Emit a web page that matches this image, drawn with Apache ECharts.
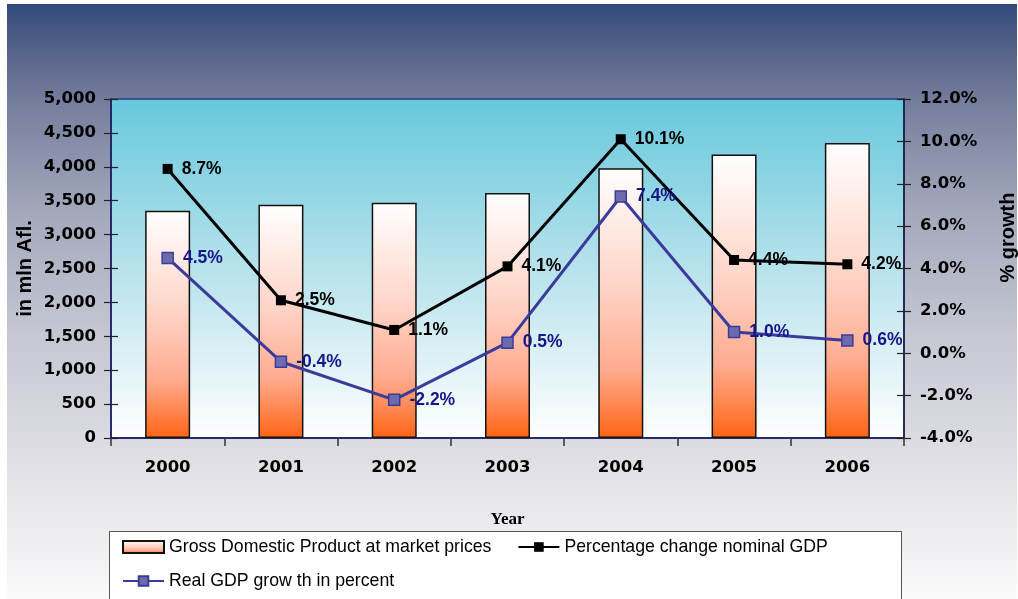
<!DOCTYPE html>
<html>
<head>
<meta charset="utf-8">
<script src="https://cdn.jsdelivr.net/npm/echarts@6/dist/echarts.min.js"></script>
<style>
  html, body { margin: 0; padding: 0; background: #ffffff; }
  #bg { position: absolute; left: 7px; top: 4px; width: 1010px; height: 595px;
        background: linear-gradient(to bottom, #334a7a 0%, #5f6a8e 10%, #777f9e 17%, #a3a8bb 35%, #c4c6d2 55%, #dddde3 75%, #f4f4f6 95%, #fafafb 100%); }
  #lgbox { position: absolute; left: 109px; top: 531px; width: 791px; height: 80px;
        background: #ffffff; border: 1.5px solid #555555; }
  #chart { position: absolute; left: 0; top: 0; width: 1018px; height: 599px; }
</style>
</head>
<body>
<div id="bg"></div>
<div id="lgbox"></div>
<div id="chart"></div>
<script>
const years = ['2000', '2001', '2002', '2003', '2004', '2005', '2006'];
const gdp = [3350, 3440, 3470, 3615, 3980, 4180, 4350];
const nominalChange = [8.7, 2.5, 1.1, 4.1, 10.1, 4.4, 4.2];
const realGrowth = [4.5, -0.4, -2.2, 0.5, 7.4, 1.0, 0.6];
const seriesNames = ['Gross Domestic Product at market prices', 'Percentage change nominal GDP', 'Real GDP grow th in percent'];

const chart = echarts.init(document.getElementById('chart'), null, { renderer: 'canvas' });
const tickFont = { fontFamily: 'DejaVu Sans', fontWeight: 'bold', fontSize: 16.5, color: '#000' };
const axisLineStyle = { color: '#1a1a5a', width: 1.5 };

const leftBase = { type: 'value', min: 0, max: 5000, interval: 500, splitLine: { show: false } };
const rightBase = { type: 'value', min: -4, max: 12, interval: 2, splitLine: { show: false } };
const legendText = { fontFamily: 'Liberation Sans', fontSize: 17.7, color: '#000' };

chart.setOption({
  animation: false,
  grid: {
    left: 111, right: 114, top: 99, bottom: 161, show: true,
    containLabel: false, outerBoundsMode: 'none',
    backgroundColor: { type: 'linear', x: 0, y: 0, x2: 0, y2: 1,
      colorStops: [{ offset: 0, color: '#66c8dc' }, { offset: 0.5, color: '#b7e2ec' }, { offset: 1, color: '#ffffff' }] },
    borderColor: '#2a3a8a', borderWidth: 1.5
  },
  legend: [
    { data: [{ name: seriesNames[0], icon: 'rect' }, { name: seriesNames[1] }], left: 122, top: 538, padding: 0,
      itemWidth: 41, itemHeight: 12, itemGap: 26, textStyle: legendText },
    { data: [seriesNames[2]], left: 122, top: 572, padding: 0, itemWidth: 41, itemHeight: 12, textStyle: legendText }
  ],
  xAxis: [{
    type: 'category', data: years, boundaryGap: true,
    name: 'Year', nameLocation: 'middle', nameGap: 73,
    nameTextStyle: { fontFamily: 'Liberation Serif', fontWeight: 'bold', fontSize: 17, color: '#000' },
    axisLine: { lineStyle: axisLineStyle },
    axisTick: { show: true, alignWithLabel: false, length: 8, lineStyle: { color: '#333', width: 1.5 } },
    axisLabel: Object.assign({ margin: 21 }, tickFont)
  }],
  yAxis: [
    Object.assign({}, leftBase, {
      position: 'left',
      name: 'in mln Afl.', nameLocation: 'middle', nameGap: 76, nameRotate: 90, nameMoveOverlap: false,
      nameTextStyle: { fontFamily: 'Liberation Sans', fontWeight: 'bold', fontSize: 20, color: '#000' },
      axisLine: { show: true, lineStyle: axisLineStyle },
      axisTick: { show: true, length: 7, lineStyle: { color: '#222', width: 1.2 } },
      axisLabel: Object.assign({ margin: 15, formatter: v => v.toLocaleString('en-US') }, tickFont)
    }),
    Object.assign({}, rightBase, {
      position: 'right',
      name: '% growth', nameLocation: 'middle', nameGap: 94, nameRotate: 90,
      nameTextStyle: { fontFamily: 'Liberation Sans', fontWeight: 'bold', fontSize: 20, color: '#000', padding: [0, 0, 0, 62] },
      axisLine: { show: true, lineStyle: { color: '#1a1a3a', width: 1.5 } },
      axisTick: { show: true, length: 7, lineStyle: { color: '#222', width: 1.2 } },
      axisLabel: Object.assign({ margin: 16, formatter: v => v.toFixed(1) + '%' }, tickFont)
    }),
    Object.assign({}, leftBase, {
      position: 'left', axisLine: { show: false }, axisLabel: { show: false },
      axisTick: { show: true, inside: true, length: 7, lineStyle: { color: '#222', width: 1.2 } }
    }),
    Object.assign({}, rightBase, {
      position: 'right', axisLine: { show: false }, axisLabel: { show: false },
      axisTick: { show: true, inside: true, length: 7, lineStyle: { color: '#222', width: 1.2 } }
    })
  ],
  series: [
    {
      name: seriesNames[0], type: 'bar', data: gdp, yAxisIndex: 0, barWidth: 45,
      itemStyle: {
        color: { type: 'linear', x: 0, y: 0, x2: 0, y2: 1,
          colorStops: [{ offset: 0, color: '#ffffff' }, { offset: 0.45, color: '#ffd3c6' }, { offset: 0.75, color: '#ffaa8e' }, { offset: 1, color: '#ff6414' }] },
        borderColor: '#111', borderWidth: 1.5
      }
    },
    {
      name: seriesNames[1], type: 'line', data: nominalChange, yAxisIndex: 1, z: 5,
      symbol: 'rect', symbolSize: 10, color: '#000',
      lineStyle: { color: '#000', width: 3 }, itemStyle: { color: '#000' },
      label: { show: true, position: 'right', distance: 9, formatter: p => p.value.toFixed(1) + '%',
        fontFamily: 'Liberation Sans', fontWeight: 'bold', fontSize: 17.5, color: '#000' }
    },
    {
      name: seriesNames[2], type: 'line', data: realGrowth, yAxisIndex: 1, z: 6,
      symbol: 'rect', symbolSize: 11, color: '#3b3b9c',
      lineStyle: { color: '#3b3b9c', width: 3 }, itemStyle: { color: '#6c6cac', borderColor: '#3b3b9c', borderWidth: 1.5 },
      label: { show: true, position: 'right', distance: 9, formatter: p => p.value.toFixed(1) + '%',
        fontFamily: 'Liberation Sans', fontWeight: 'bold', fontSize: 17.5, color: '#16168a' }
    }
  ]
});
</script>
</body>
</html>
